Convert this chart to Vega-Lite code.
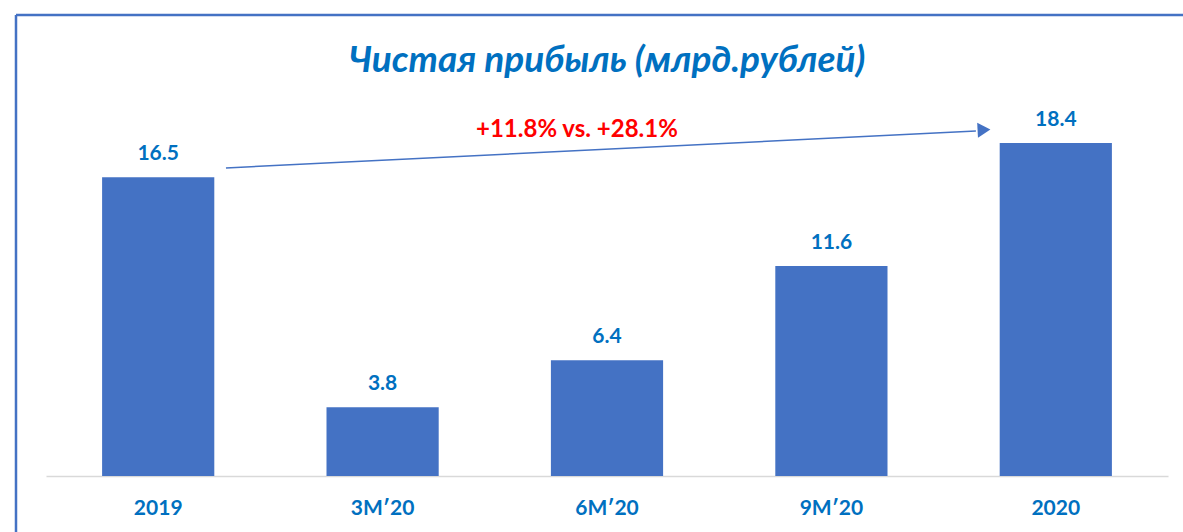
{
  "$schema": "https://vega.github.io/schema/vega-lite/v6.json",
  "autosize": {"type": "none"},
  "width": 1122,
  "height": 362,
  "padding": {"left": 46, "top": 114, "right": 15, "bottom": 56},
  "background": "white",
  "config": {"view": {"stroke": null}, "font": "Lato"},
  "datasets": {
    "bars": [
      {"period": "2019", "value": 16.5, "label": "16.5"},
      {"period": "3Mʹ20", "value": 3.8, "label": "3.8"},
      {"period": "6Mʹ20", "value": 6.4, "label": "6.4"},
      {"period": "9Mʹ20", "value": 11.6, "label": "11.6"},
      {"period": "2020", "value": 18.4, "label": "18.4"}
    ],
    "arrow": [{"x1": 0.802, "y1": 17.02, "x2": 4.144, "y2": 19.06}],
    "head": [{"x": 4.18, "y": 19.12}],
    "note": [{"x": 2.366, "y": 18.73, "text": "+11.8% vs. +28.1%"}],
    "title": [{"x": 2.5, "y": 22.32, "text": "Чистая прибыль (млрд.рублей)"}],
    "frame": [
      {"x1": -0.1337, "x2": -0.1337, "y1": 25.47, "y2": -6},
      {"x1": -0.1337, "x2": 5.3, "y1": 25.47, "y2": 25.47}
    ]
  },
  "resolve": {"scale": {"x": "independent"}, "axis": {"x": "independent"}},
  "layer": [
    {
      "layer": [
        {
          "data": {"name": "bars"},
          "mark": {"type": "bar", "color": "#4472C4"},
          "encoding": {
            "x": {
              "field": "period", "type": "nominal", "sort": null,
              "scale": {"paddingInner": 0.5, "paddingOuter": 0.25},
              "axis": {
                "title": null, "labelAngle": 0, "ticks": false,
                "domainColor": "#D9D9D9", "domainWidth": 1.5,
                "labelColor": "#0070C0", "labelFont": "Lato", "labelFontSize": 21,
                "labelFontWeight": "bold", "labelPadding": 21
              }
            },
            "y": {"field": "value", "type": "quantitative", "scale": {"domain": [0, 20], "nice": false}, "axis": null}
          }
        },
        {
          "data": {"name": "bars"},
          "mark": {"type": "text", "baseline": "alphabetic", "dy": -17, "font": "Lato", "fontSize": 21, "fontWeight": "bold", "color": "#0070C0"},
          "encoding": {
            "x": {"field": "period", "type": "nominal", "sort": null},
            "y": {"field": "value", "type": "quantitative"},
            "text": {"field": "label"}
          }
        }
      ]
    },
    {
      "layer": [
        {
          "data": {"name": "frame"},
          "mark": {"type": "rule", "color": "#4472C4", "strokeWidth": 2.5, "clip": false},
          "encoding": {
            "x": {"field": "x1", "type": "quantitative", "scale": {"domain": [0, 5], "nice": false, "zero": false}, "axis": null},
            "x2": {"field": "x2"},
            "y": {"field": "y1", "type": "quantitative"},
            "y2": {"field": "y2"}
          }
        },
        {
          "data": {"name": "arrow"},
          "mark": {"type": "rule", "color": "#4472C4", "strokeWidth": 1.5},
          "encoding": {
            "x": {"field": "x1", "type": "quantitative"},
            "x2": {"field": "x2"},
            "y": {"field": "y1", "type": "quantitative"},
            "y2": {"field": "y2"}
          }
        },
        {
          "data": {"name": "head"},
          "mark": {"type": "point", "shape": "triangle-right", "filled": true, "color": "#4472C4", "size": 220, "angle": -3, "opacity": 1},
          "encoding": {
            "x": {"field": "x", "type": "quantitative"},
            "y": {"field": "y", "type": "quantitative"}
          }
        },
        {
          "data": {"name": "note"},
          "mark": {"type": "text", "baseline": "alphabetic", "font": "Lato", "fontSize": 24, "fontWeight": "bold", "color": "#FF0000"},
          "encoding": {
            "x": {"field": "x", "type": "quantitative"},
            "y": {"field": "y", "type": "quantitative"},
            "text": {"field": "text"}
          }
        },
        {
          "data": {"name": "title"},
          "mark": {"type": "text", "baseline": "alphabetic", "font": "Lato", "fontSize": 37, "fontWeight": "bold", "fontStyle": "italic", "color": "#0070C0"},
          "encoding": {
            "x": {"field": "x", "type": "quantitative"},
            "y": {"field": "y", "type": "quantitative"},
            "text": {"field": "text"}
          }
        }
      ]
    }
  ]
}
